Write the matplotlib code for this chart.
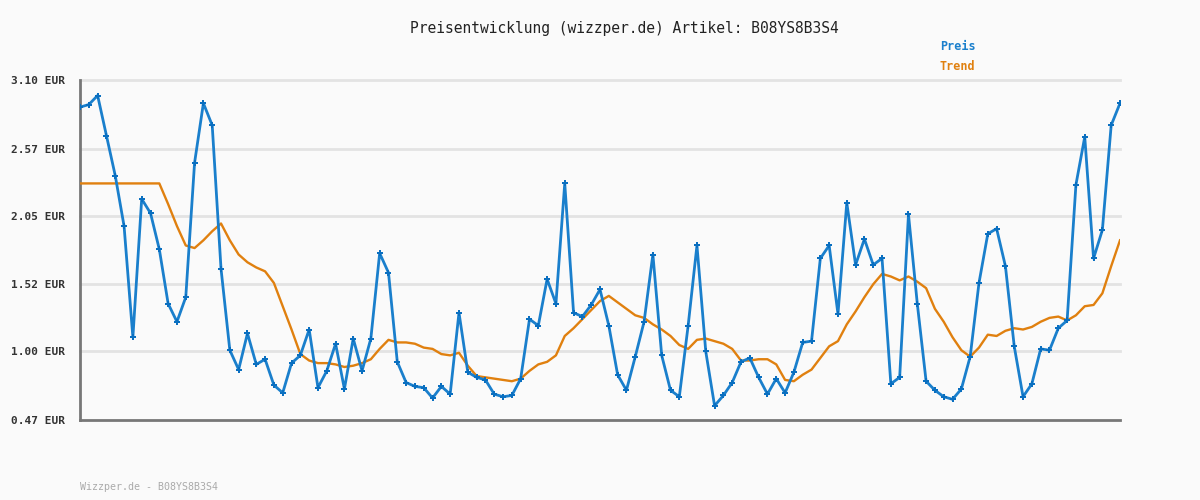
import numpy as np
import matplotlib.pyplot as plt

plt.rcParams['font.family'] = ['DejaVu Sans Mono']

title = 'Preisentwicklung (wizzper.de) Artikel: B08YS8B3S4'
footer = 'Wizzper.de - B08YS8B3S4'

price = [2.89, 2.91, 2.98, 2.67, 2.36, 1.97, 1.11, 2.18, 2.07, 1.79,
         1.37, 1.23, 1.42, 2.46, 2.92, 2.75, 1.64, 1.01, 0.86, 1.14,
         0.90, 0.94, 0.74, 0.68, 0.91, 0.97, 1.17, 0.72, 0.85, 1.06,
         0.71, 1.10, 0.85, 1.10, 1.76, 1.61, 0.92, 0.76, 0.73, 0.72,
         0.64, 0.73, 0.67, 1.30, 0.84, 0.80, 0.78, 0.67, 0.65, 0.66,
         0.79, 1.25, 1.20, 1.56, 1.37, 2.30, 1.30, 1.27, 1.36, 1.48,
         1.20, 0.82, 0.70, 0.96, 1.23, 1.75, 0.97, 0.70, 0.65, 1.20,
         1.82, 1.00, 0.58, 0.66, 0.76, 0.92, 0.95, 0.80, 0.67, 0.79,
         0.68, 0.84, 1.07, 1.08, 1.72, 1.82, 1.29, 2.15, 1.67, 1.87,
         1.67, 1.72, 0.75, 0.80, 2.06, 1.37, 0.77, 0.70, 0.65, 0.63,
         0.71, 0.96, 1.53, 1.91, 1.95, 1.66, 1.04, 0.65, 0.75, 1.02,
         1.01, 1.18, 1.24, 2.29, 2.66, 1.72, 1.94, 2.75, 2.92]

trend = [2.30, 2.30, 2.30, 2.30, 2.30, 2.30, 2.30, 2.30, 2.30, 2.30,
         2.14, 1.97, 1.82, 1.80, 1.86, 1.93, 1.99, 1.86, 1.75, 1.69,
         1.65, 1.62, 1.53, 1.35, 1.17, 0.98, 0.93, 0.91, 0.91, 0.90,
         0.88, 0.89, 0.91, 0.94, 1.02, 1.09, 1.07, 1.07, 1.06, 1.03,
         1.02, 0.98, 0.97, 0.99, 0.89, 0.81, 0.80, 0.79, 0.78, 0.77,
         0.79, 0.85, 0.90, 0.92, 0.97, 1.12, 1.18, 1.25, 1.32, 1.39,
         1.43, 1.38, 1.33, 1.28, 1.26, 1.21, 1.17, 1.12, 1.05, 1.02,
         1.09, 1.10, 1.08, 1.06, 1.02, 0.93, 0.93, 0.94, 0.94, 0.90,
         0.78, 0.77, 0.82, 0.86, 0.95, 1.04, 1.08, 1.21, 1.31, 1.42,
         1.52, 1.60, 1.58, 1.55, 1.58, 1.54, 1.49, 1.33, 1.23, 1.11,
         1.01, 0.96, 1.03, 1.13, 1.12, 1.16, 1.18, 1.17, 1.19, 1.23,
         1.26, 1.27, 1.24, 1.28, 1.35, 1.36, 1.45, 1.66, 1.86]

y_ticks = [0.47, 1.00, 1.52, 2.05, 2.57, 3.10]
y_labels = ['0.47 EUR', '1.00 EUR', '1.52 EUR', '2.05 EUR', '2.57 EUR', '3.10 EUR']

blue = '#1a7fcc'
orange = '#e0800f'

fig = plt.figure(figsize=(12, 5), dpi=100, facecolor='#fafafa')
ax = fig.add_axes([80 / 1200, 80 / 500, 1040 / 1200, 340 / 500])
ax.set_facecolor('#fafafa')

x = np.arange(len(price))
ax.plot(x, trend, color=orange, lw=1.7, zorder=3)
ax.plot(x, price, color=blue, lw=2.0, marker='P', ms=4, mew=0,
        mfc='#0a6fc0', zorder=4)

ax.set_xlim(0, len(price) - 1)
ax.set_ylim(y_ticks[0], y_ticks[-1])
ax.set_yticks(y_ticks)
ax.set_yticklabels(y_labels, fontsize=8, fontweight='bold', color='#333333')
ax.set_xticks([])
ax.tick_params(axis='y', length=0, pad=11)
for t in y_ticks[1:]:
    ax.axhline(t, color='#e3e3e3', lw=2, zorder=1, clip_on=False)

for s in ['top', 'right']:
    ax.spines[s].set_visible(False)
for s in ['left', 'bottom']:
    ax.spines[s].set_color('#777777')
    ax.spines[s].set_linewidth(2)

fig.text(624 / 1200, 1 - 28 / 500, title, ha='center', va='center',
         fontsize=10.5, color='#222222')
fig.text(940 / 1200, 1 - 47 / 500, 'Preis', ha='left', va='center',
         fontsize=8.5, fontweight='bold', color=blue)
fig.text(940 / 1200, 1 - 67 / 500, 'Trend', ha='left', va='center',
         fontsize=8.5, fontweight='bold', color=orange)
fig.text(80 / 1200, 1 - 487 / 500, footer, ha='left', va='center',
         fontsize=7.2, color='#aaaaaa')

fig.savefig('out.png', dpi=100, facecolor=fig.get_facecolor())
